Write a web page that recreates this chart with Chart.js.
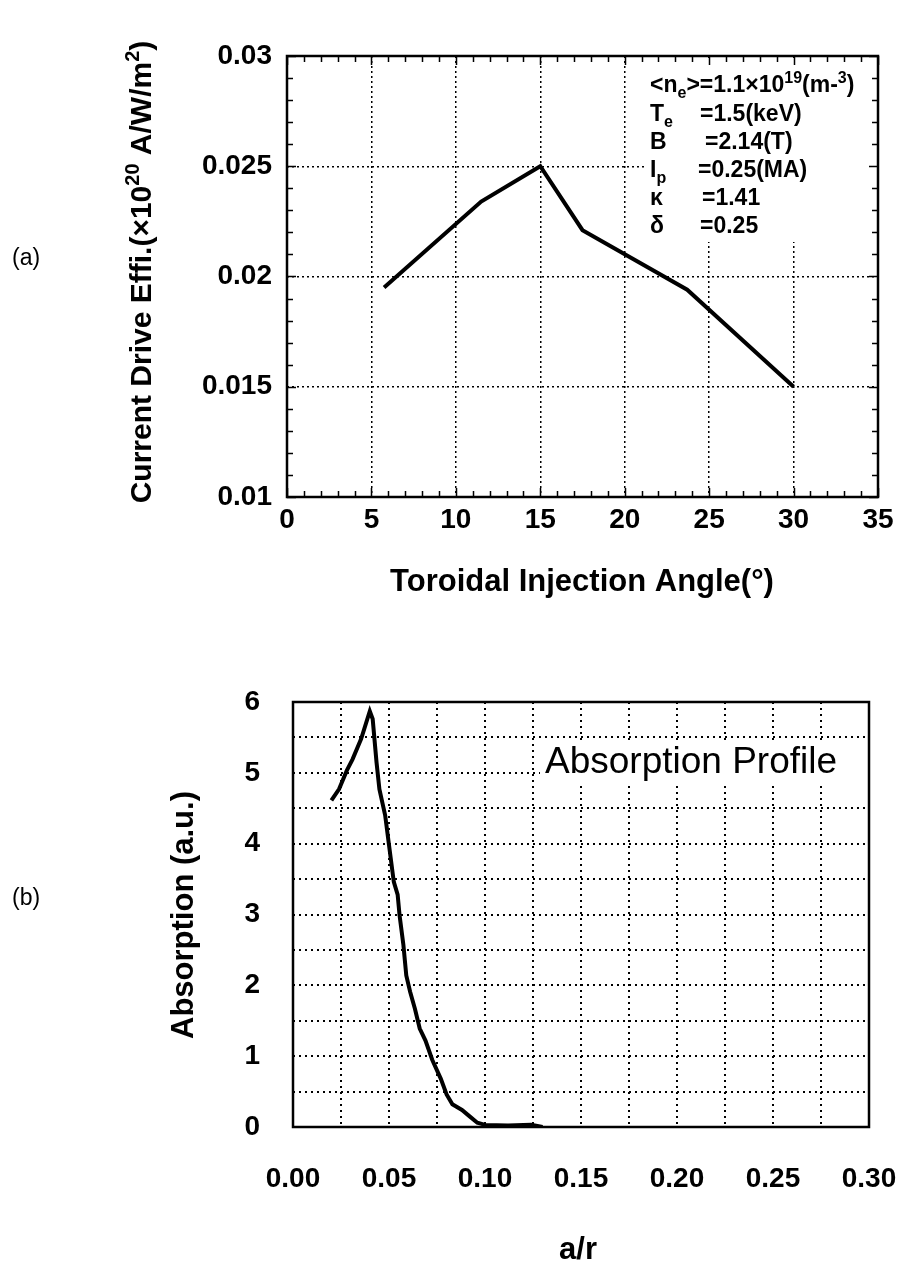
<!DOCTYPE html>
<html>
<head>
<meta charset="utf-8">
<script src="https://cdn.jsdelivr.net/npm/chart.js@4.4.1/dist/chart.umd.min.js"></script>
<style>
  html, body { margin: 0; padding: 0; background: #fff; }
  #wrap { position: relative; width: 898px; height: 1264px; }
  canvas { position: absolute; left: 0; }
  #chartA { top: 0; }
  #chartB { top: 620px; }
</style>
</head>
<body>
<div id="wrap">
  <canvas id="chartA" width="898" height="620"></canvas>
  <canvas id="chartB" width="898" height="644"></canvas>
</div>
<script>
(function() {
    'use strict';

    // ===== DATA (a) : current drive efficiency vs injection angle =====
    const injAngle = [5.75, 11.5, 15, 17.5, 23.7, 30];
    const cdEff = [0.0195, 0.0234, 0.0250, 0.0221, 0.0194, 0.0150];
    const angleLabels = ['0', '5', '10', '15', '20', '25', '30', '35'];
    const effLabels = ['0.01', '0.015', '0.02', '0.025', '0.03'];

    // ===== DATA (b) : absorption profile =====
    const radius = [0.020, 0.024, 0.028, 0.031, 0.0355, 0.040, 0.0415, 0.0435, 0.045, 0.048,
                    0.050, 0.0525, 0.0545, 0.0555, 0.0575, 0.059, 0.061, 0.0635, 0.066, 0.069,
                    0.0725, 0.077, 0.080, 0.083, 0.088, 0.092, 0.096, 0.100, 0.112, 0.124, 0.130];
    const absorption = [4.61, 4.77, 5.03, 5.19, 5.48, 5.87, 5.76, 5.15, 4.77, 4.40,
                        3.98, 3.46, 3.28, 2.99, 2.57, 2.14, 1.91, 1.67, 1.39, 1.22,
                        0.95, 0.68, 0.46, 0.32, 0.24, 0.15, 0.06, 0.03, 0.02, 0.03, 0.0];
    const radiusLabels = ['0.00', '0.05', '0.10', '0.15', '0.20', '0.25', '0.30'];
    const absLabels = ['0', '1', '2', '3', '4', '5', '6'];

    // legend rows of (a): [name segments, value text, value x]
    const paramRows = [
        [[['<n', 0], ['e', -1], ['>=1.1\u00d710', 0], ['19', 1], ['(m-', 0], ['3', 1], [')', 0]], '', 0],
        [[['T', 0], ['e', -1]], '=1.5(keV)', 700],
        [[['B', 0]], '=2.14(T)', 705],
        [[['I', 0], ['p', -1]], '=0.25(MA)', 698],
        [[['\u03ba', 0]], '=1.41', 702],
        [[['\u03b4', 0]], '=0.25', 700]
    ];

    const FONT = '"Liberation Sans", Arial, Helvetica, sans-serif';
    const CLEAR = 'rgba(0,0,0,0)';

    function labelFor(list, v) {
        const hit = list.find(l => Math.abs(parseFloat(l) - v) < 1e-9);
        return hit === undefined ? '' : hit;
    }

    // rich text: segs = [[text, mode]] mode 0 normal, 1 sup, -1 sub
    function drawRich(ctx, segs, x, y, size, weight, align) {
        let total = 0;
        const parts = segs.map(([t, m]) => {
            const fs = m ? Math.round(size * 0.68) : size;
            ctx.font = weight + ' ' + fs + 'px ' + FONT;
            const w = ctx.measureText(t).width;
            total += w;
            return { t, m, fs, w };
        });
        let cx = align === 'center' ? x - total / 2 : x;
        ctx.textAlign = 'left';
        ctx.textBaseline = 'alphabetic';
        parts.forEach(p => {
            ctx.font = weight + ' ' + p.fs + 'px ' + FONT;
            const dy = p.m === 1 ? -size * 0.4 : (p.m === -1 ? size * 0.25 : 0);
            ctx.fillText(p.t, cx, y + dy);
            cx += p.w;
        });
    }

    function drawVertical(ctx, segs, cx, cy, size) {
        ctx.save();
        ctx.translate(cx, cy);
        ctx.rotate(-Math.PI / 2);
        drawRich(ctx, segs, 0, size * 0.36, size, 'bold', 'center');
        ctx.restore();
    }

    // ===== CHART (a) =====
    const decorA = {
        id: 'decorA',
        beforeDatasetsDraw(chart) {
            const ctx = chart.ctx;
            const a = chart.chartArea;
            ctx.save();
            ctx.fillStyle = '#fff';
            ctx.fillRect(644, a.top + 2, a.right - 646, 240 - a.top);
            ctx.fillStyle = '#000';
            const base = [92, 121, 149, 177, 205, 233];
            paramRows.forEach((row, i) => {
                drawRich(ctx, row[0], 650, base[i], 23, 'bold', 'left');
                if (row[1]) drawRich(ctx, [[row[1], 0]], row[2], base[i], 23, 'bold', 'left');
            });
            ctx.restore();
        },
        afterDraw(chart) {
            const ctx = chart.ctx;
            const a = chart.chartArea;
            const xs = chart.scales.x, ys = chart.scales.y;
            ctx.save();
            ctx.strokeStyle = '#000';
            ctx.lineWidth = 1.5;
            ctx.beginPath();
            for (let v = 0; v <= 35; v++) {
                const px = Math.round(xs.getPixelForValue(v)) + 0.5;
                const len = v % 5 === 0 ? 9 : 6;
                ctx.moveTo(px, a.bottom); ctx.lineTo(px, a.bottom - len);
                ctx.moveTo(px, a.top); ctx.lineTo(px, a.top + len);
            }
            for (let k = 10; k <= 30; k++) {
                const py = Math.round(ys.getPixelForValue(k / 1000)) + 0.5;
                const len = k % 5 === 0 ? 9 : 6;
                ctx.moveTo(a.left, py); ctx.lineTo(a.left + len, py);
                ctx.moveTo(a.right, py); ctx.lineTo(a.right - len, py);
            }
            ctx.stroke();
            ctx.lineWidth = 2.5;
            ctx.strokeRect(a.left, a.top, a.right - a.left, a.bottom - a.top);

            ctx.fillStyle = '#000';
            drawRich(ctx, [['Toroidal Injection Angle(\u00b0)', 0]], 582, 591, 31, 'bold', 'center');
            drawVertical(ctx, [['Current Drive Effi.(\u00d710', 0], ['20', 1], [' A/W/m', 0], ['2', 1], [')', 0]], 140, 272, 30);
            drawRich(ctx, [['(a)', 0]], 12, 265, 23, 'normal', 'left');
            ctx.restore();
        }
    };

    new Chart(document.getElementById('chartA'), {
        type: 'line',
        data: {
            datasets: [{
                data: injAngle.map((a, i) => ({ x: a, y: cdEff[i] })),
                borderColor: '#000',
                borderWidth: 4,
                pointRadius: 0,
                tension: 0,
                fill: false
            }]
        },
        options: {
            responsive: false,
            animation: false,
            layout: { padding: { left: 0, right: 20, top: 56, bottom: 0 } },
            plugins: { legend: { display: false }, tooltip: { enabled: false } },
            scales: {
                x: {
                    type: 'linear', min: 0, max: 35,
                    afterFit: s => { s.height = 123; },
                    ticks: {
                        stepSize: 5, padding: 0, color: '#000', autoSkip: false, maxRotation: 0,
                        font: { family: FONT, size: 28, weight: 'bold' },
                        callback: v => labelFor(angleLabels, v)
                    },
                    grid: { color: '#000', lineWidth: 1.5, drawTicks: true, tickLength: 6, tickColor: CLEAR },
                    border: { display: false, dash: [2, 3] }
                },
                y: {
                    type: 'linear', min: 0.01, max: 0.03,
                    afterFit: s => { s.width = 287; },
                    ticks: {
                        stepSize: 0.005, padding: 0, color: '#000', autoSkip: false,
                        font: { family: FONT, size: 28, weight: 'bold' },
                        callback: v => labelFor(effLabels, v)
                    },
                    grid: { color: '#000', lineWidth: 1.5, drawTicks: true, tickLength: 15, tickColor: CLEAR },
                    border: { display: false, dash: [2, 3] }
                }
            }
        },
        plugins: [decorA]
    });

    // ===== CHART (b) =====
    const decorB = {
        id: 'decorB',
        beforeDatasetsDraw(chart) {
            const ctx = chart.ctx;
            const a = chart.chartArea;
            ctx.save();
            ctx.fillStyle = '#fff';
            ctx.fillRect(540, a.top + 40, a.right - 542, 42);
            ctx.fillStyle = '#000';
            drawRich(ctx, [['Absorption Profile', 0]], 545, a.top + 71, 37, 'normal', 'left');
            ctx.restore();
        },
        afterDraw(chart) {
            const ctx = chart.ctx;
            const a = chart.chartArea;
            ctx.save();
            ctx.strokeStyle = '#000';
            ctx.lineWidth = 2.5;
            ctx.strokeRect(a.left, a.top, a.right - a.left, a.bottom - a.top);
            ctx.fillStyle = '#000';
            drawRich(ctx, [['a/r', 0]], 578, 639, 31, 'bold', 'center');
            drawVertical(ctx, [['Absorption (a.u.)', 0]], 182, 295, 31);
            drawRich(ctx, [['(b)', 0]], 12, 285, 23, 'normal', 'left');
            ctx.restore();
        }
    };

    new Chart(document.getElementById('chartB'), {
        type: 'line',
        data: {
            datasets: [{
                data: radius.map((r, i) => ({ x: r, y: absorption[i] })),
                borderColor: '#000',
                borderWidth: 4,
                pointRadius: 0,
                tension: 0,
                fill: false
            }]
        },
        options: {
            responsive: false,
            animation: false,
            layout: { padding: { left: 0, right: 29, top: 82, bottom: 0 } },
            plugins: { legend: { display: false }, tooltip: { enabled: false } },
            scales: {
                x: {
                    type: 'linear', min: 0, max: 0.3,
                    afterFit: s => { s.height = 137; },
                    ticks: {
                        stepSize: 0.025, padding: 0, color: '#000', autoSkip: false, maxRotation: 0,
                        font: { family: FONT, size: 28, weight: 'bold' },
                        callback: v => labelFor(radiusLabels, v)
                    },
                    grid: { color: '#000', lineWidth: 2, drawTicks: true, tickLength: 35, tickColor: CLEAR },
                    border: { display: false, dash: [2, 4] }
                },
                y: {
                    type: 'linear', min: 0, max: 6,
                    afterFit: s => { s.width = 293; },
                    ticks: {
                        stepSize: 0.5, padding: 0, color: '#000', autoSkip: false,
                        font: { family: FONT, size: 28, weight: 'bold' },
                        callback: v => labelFor(absLabels, v)
                    },
                    grid: { color: '#000', lineWidth: 2, drawTicks: true, tickLength: 33, tickColor: CLEAR },
                    border: { display: false, dash: [2, 4] }
                }
            }
        },
        plugins: [decorB]
    });

})();
</script>
</body>
</html>
